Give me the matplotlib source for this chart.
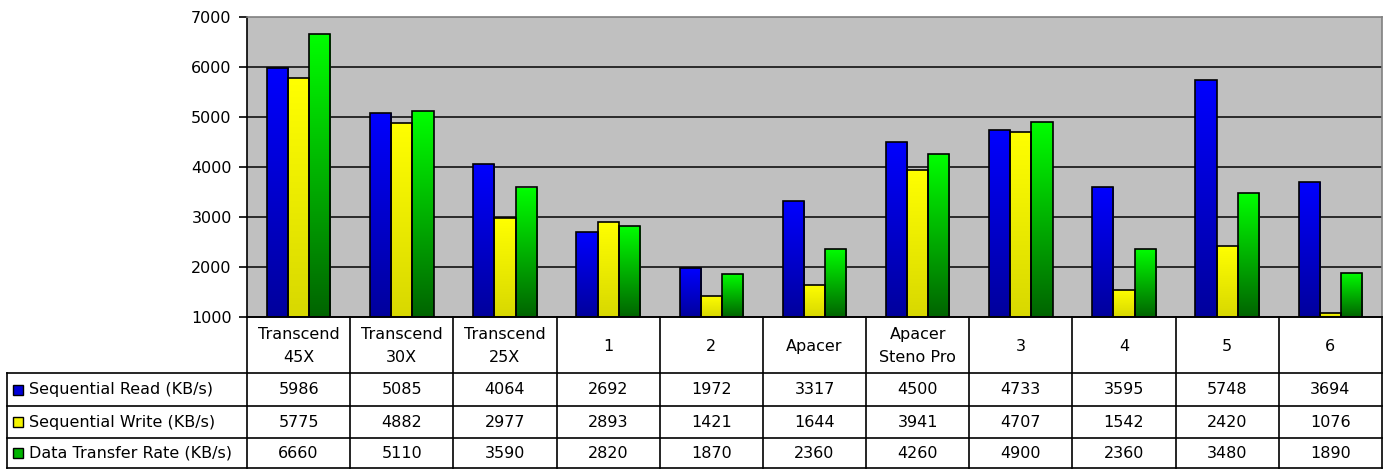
import numpy as np
import matplotlib
matplotlib.use("Agg")
import matplotlib.pyplot as plt
from matplotlib.colors import LinearSegmentedColormap
from matplotlib.patches import Rectangle

categories = ["Transcend\n45X", "Transcend\n30X", "Transcend\n25X", "1", "2",
              "Apacer", "Apacer\nSteno Pro", "3", "4", "5", "6"]
series_names = ["Sequential Read (KB/s)", "Sequential Write (KB/s)",
                "Data Transfer Rate (KB/s)"]
seq_read = [5986, 5085, 4064, 2692, 1972, 3317, 4500, 4733, 3595, 5748, 3694]
seq_write = [5775, 4882, 2977, 2893, 1421, 1644, 3941, 4707, 1542, 2420, 1076]
transfer = [6660, 5110, 3590, 2820, 1870, 2360, 4260, 4900, 2360, 3480, 1890]
y_ticks = [1000, 2000, 3000, 4000, 5000, 6000, 7000]

series = [seq_read, seq_write, transfer]
top_cols = ["#0000FF", "#FFFF00", "#00FF00"]
bot_cols = ["#00009C", "#D8D800", "#006400"]
key_cols = ["#0000D8", "#F4F400", "#00B400"]

W, H = 1389, 469
fig = plt.figure(figsize=(W / 100, H / 100), dpi=100)
plt.rcParams['font.family'] = ['DejaVu Sans']
FS = 11.5

L, R, T, B = 247, 1382, 17, 317
ax = fig.add_axes([L / W, 1 - B / H, (R - L) / W, (B - T) / H])
ax.set_facecolor("#C0C0C0")
n = len(categories)
x = np.arange(n)
bw = 0.205
ax.set_xlim(-0.5, n - 0.5)
ax.set_ylim(1000, 7000)
ax.set_yticks(y_ticks)
ax.set_yticklabels([str(v) for v in y_ticks], fontsize=FS)
ax.tick_params(axis='y', length=6, width=1.2, pad=5, color='black')
ax.set_xticks([])
for yv in y_ticks[1:-1]:
    ax.axhline(yv, color="#111111", lw=1.2, zorder=1)
for s in ["top", "right"]:
    ax.spines[s].set_color("#808080")
    ax.spines[s].set_linewidth(1.2)
ax.spines["left"].set_color("black")
ax.spines["left"].set_linewidth(1.2)
ax.spines["bottom"].set_color("black")
ax.spines["bottom"].set_linewidth(1.2)

grad = np.linspace(1, 0, 256).reshape(-1, 1)
for k, vals in enumerate(series):
    cmap = LinearSegmentedColormap.from_list("g%d" % k, [bot_cols[k], top_cols[k]])
    offs = (k - 1) * bw
    bars = ax.bar(x + offs, vals, width=bw, color="none", edgecolor="black",
                  linewidth=1.2, zorder=3)
    for b, v in zip(bars, vals):
        x0 = b.get_x()
        im = ax.imshow(grad, cmap=cmap, aspect="auto", origin="upper",
                       extent=(x0, x0 + bw, 1000, v), zorder=2,
                       interpolation="bilinear")
        im.set_clip_path(b)
ax.set_xlim(-0.5, n - 0.5)
ax.set_ylim(1000, 7000)

# data table
TB = 468
tab = fig.add_axes([L / W, 1 - TB / H, (R - L) / W, (TB - B) / H])
tab.set_xlim(-0.5, n - 0.5)
tab.set_ylim(TB, B)
tab.axis("off")
px = (n) / (R - L)  # data units per pixel
left_edge = -0.5 - (L - 7) * px
row_y = [B, 373, 406, 438, TB]
lw = 1.2
kw = dict(color="black", lw=lw, clip_on=False, solid_capstyle="projecting")
tab.plot([-0.5, n - 0.5], [row_y[0], row_y[0]], **kw)
for i in range(n + 1):
    tab.plot([i - 0.5, i - 0.5], [row_y[0], TB], **kw)
tab.plot([left_edge, left_edge], [row_y[1], TB], **kw)
for yy in row_y[1:]:
    tab.plot([left_edge, n - 0.5], [yy, yy], **kw)
for i, c in enumerate(categories):
    tab.text(i, (row_y[0] + row_y[1]) / 2 + 1, c, ha="center", va="center",
             fontsize=FS, linespacing=1.6)
for r, (name, vals) in enumerate(zip(series_names, series)):
    yc = (row_y[r + 1] + row_y[r + 2]) / 2
    ks = 10 * px
    tab.add_patch(Rectangle((left_edge + 6 * px, yc - 5), ks, 10,
                            facecolor=key_cols[r], edgecolor="black", lw=1.0,
                            clip_on=False))
    tab.text(left_edge + 22 * px, yc, name, ha="left", va="center", fontsize=FS)
    for i, v in enumerate(vals):
        tab.text(i, yc, str(v), ha="center", va="center", fontsize=FS)

fig.savefig("out.png", dpi=100)
